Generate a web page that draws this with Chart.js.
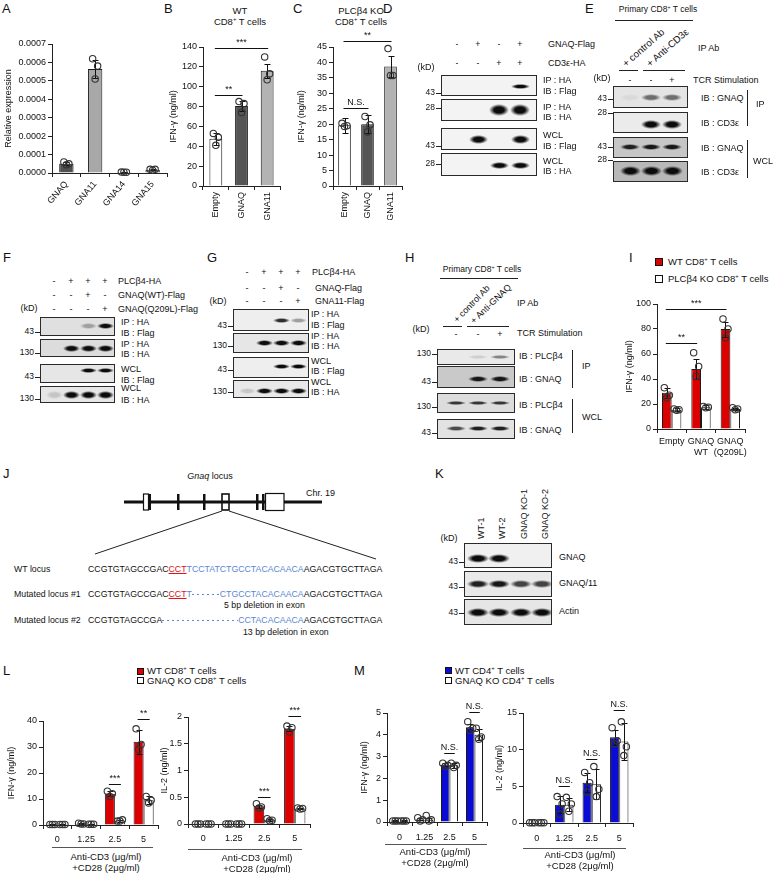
<!DOCTYPE html>
<html>
<head>
<meta charset="utf-8">
<title>Figure</title>
<script src="https://cdn.jsdelivr.net/npm/chart.js@4.4.1/dist/chart.umd.min.js"></script>
<style>
  body { margin: 0; background: #fff; }
  #fig { position: relative; width: 776px; height: 873px; overflow: hidden;
         font-family: "Liberation Sans", Arial, sans-serif; color: #111; }
  #fig canvas { position: absolute; }
  #lines { position: absolute; left: 0; top: 0; }
  .t { position: absolute; white-space: nowrap; font-size: 9px; line-height: 1.15; transform: translateY(-50%); }
  .t.c { transform: translate(-50%, -50%); text-align: center; }
  .t.r { transform: translate(-100%, -50%); }
  .t sup { font-size: 0.62em; vertical-align: 0; position: relative; top: -0.6em; line-height: 0; }
  .blot { position: absolute; border: 1px solid #2a2a2a; box-sizing: border-box; overflow: hidden; }
  .band { position: absolute; }
  .sq { position: absolute; box-sizing: border-box; border: 1px solid #111; }
  .seq .r { color: #e01010; text-decoration: underline; }
  .seq .b { color: #5b86d6; }
  .seq .d { color: transparent; background: linear-gradient(90deg, #5b86d6 50%, transparent 50%) 0 55% / 5px 1px repeat-x; }
</style>
</head>
<body>
<div id="fig">
  <svg id="lines" width="776" height="873"></svg>
</div>
<script>
Chart.defaults.font.family = '"Liberation Sans", Arial, sans-serif';
Chart.defaults.color = '#111';

// ---------- A : relative expression
const aCats = ['GNAQ', 'GNA11', 'GNA14', 'GNA15'];
const aMean = [0.00005, 0.000565, 0.000004, 0.000018];
const aErr = [0.000008, 0.00005, 0.000001, 0.000004];
const aPts = [[0.00006, 0.00005, 0.000045], [0.00062, 0.00058, 0.00051], [0.000005, 0.000004, 0.000004], [0.00002, 0.00002, 0.000015]];

// ---------- B : WT CD8 IFN-g
const bCats = ['Empty', 'GNAQ', 'GNA11'];
const bMean = [47.5, 80.5, 116];
const bErr = [6, 5, 7];
const bPts = [[53, 49, 41], [85, 83, 74], [130, 113, 107]];
const bSig = [{ a: [0, 0], b: [0, 1], y: 92, text: '**' }, { a: [0, 0], b: [0, 2], y: 139, text: '***' }];

// ---------- C : PLCb4 KO CD8 IFN-g
const cCats = ['Empty', 'GNAQ', 'GNA11'];
const cMean = [19.7, 20, 38.7];
const cErr = [2.4, 3, 3.3];
const cPts = [[20.3, 19.5, 19.3], [22.5, 19.8, 17.5], [44.5, 35.8, 35.8]];
const cSig = [{ a: [0, 0], b: [0, 1], y: 25.2, text: 'N.S.' }, { a: [0, 0], b: [0, 2], y: 46.8, text: '**' }];

// ---------- I : WT vs PLCb4 KO
const iCats = [['Empty'], ['GNAQ', 'WT'], ['GNAQ', '(Q209L)']];
const iWt = [29, 48, 80];
const iWtErr = [4, 8, 6];
const iWtPts = [[33, 27, 25], [61, 50, 42], [88, 80, 73]];
const iKo = [15.5, 17.5, 16];
const iKoErr = [1, 1.5, 1];
const iKoPts = [[16, 15.5, 15], [18, 17.5, 17], [17, 16, 15.5]];
const iSig = [{ a: [0, 0], b: [0, 1], y: 69, text: '**' }, { a: [0, 0], b: [0, 2], y: 96, text: '***' }];

// ---------- L : CD8 WT vs GNAQ KO
const doseCats = ['0', '1.25', '2.5', '5'];
const l1Wt = [0.2, 0.5, 12, 32];
const l1WtErr = [0.1, 0.2, 1, 4.5];
const l1WtPts = [[0.2, 0.2, 0.2], [0.7, 0.4, 0.4], [13, 12, 11], [37, 31, 29]];
const l1Ko = [0.2, 0.3, 1.7, 9.5];
const l1KoErr = [0.1, 0.1, 0.4, 1.5];
const l1KoPts = [[0.2, 0.2, 0.2], [0.3, 0.3, 0.3], [1.5, 2, 1.5], [11, 9.5, 8.5]];
const l1Sig = [{ a: [0, 2], b: [1, 2], y: 15.6, text: '***' }, { a: [0, 3], b: [1, 3], y: 40.6, text: '**' }];

const l2Wt = [0.005, 0.005, 0.33, 1.78];
const l2WtErr = [0, 0, 0.03, 0.05];
const l2WtPts = [[0, 0, 0], [0, 0, 0], [0.38, 0.32, 0.3], [1.83, 1.8, 1.72]];
const l2Ko = [0.005, 0.005, 0.08, 0.29];
const l2KoErr = [0, 0, 0.02, 0.01];
const l2KoPts = [[0, 0, 0], [0, 0, 0], [0.1, 0.07, 0.06], [0.3, 0.29, 0.28]];
const l2Sig = [{ a: [0, 2], b: [1, 2], y: 0.51, text: '***' }, { a: [0, 3], b: [1, 3], y: 2.02, text: '***' }];

// ---------- M : CD4 WT vs GNAQ KO
const m1Wt = [0.05, 0.12, 2.63, 4.35];
const m1WtErr = [0.02, 0.05, 0.08, 0.15];
const m1WtPts = [[0.05, 0.05, 0.05], [0.2, 0.1, 0.05], [2.7, 2.6, 2.55], [4.6, 4.3, 4.2]];
const m1Ko = [0.05, 0.1, 2.6, 4.0];
const m1KoErr = [0.02, 0.1, 0.1, 0.25];
const m1KoPts = [[0.05, 0.05, 0.05], [0.3, 0.1, 0.05], [2.7, 2.6, 2.5], [4.3, 3.9, 3.8]];
const m1Sig = [{ a: [0, 2], b: [1, 2], y: 3.15, text: 'N.S.' }, { a: [0, 3], b: [1, 3], y: 5.05, text: 'N.S.' }];

const m2Wt = [0.05, 2.5, 5.5, 11.7];
const m2WtErr = [0, 1.2, 1.3, 1.0];
const m2WtPts = [[0.05, 0.05, 0.05], [3.6, 2.6, 1.2], [6.9, 5.5, 4.2], [13, 11.2, 10.8]];
const m2Ko = [0.05, 2.5, 5.3, 11.1];
const m2KoErr = [0, 0.9, 2.0, 2.5];
const m2KoPts = [[0.05, 0.05, 0.05], [3.5, 2.6, 1.6], [7.7, 4.6, 3.6], [13.8, 10.4, 9.2]];
const m2Sig = [{ a: [0, 1], b: [1, 1], y: 5.1, text: 'N.S.' }, { a: [0, 2], b: [1, 2], y: 8.7, text: 'N.S.' }, { a: [0, 3], b: [1, 3], y: 15.4, text: 'N.S.' }];

// ---------- blots: band intensity per lane, one row per membrane
const dBands = [[0, 0, 0, 1], [0, 0, 1, 1], [0, 1, 0, 1], [0, 0, 1, 1]];
const eBands = [[0.05, 0.55, 0.55], [0, 1, 1], [0.9, 0.95, 0.95], [1, 1, 1]];
const fBands = [[0, 0, 0.3, 1], [0, 1, 1, 1], [0, 0, 1, 1], [0.15, 1, 1, 1]];
const gBands = [[0, 0, 0.85, 0.35], [0, 1, 1, 1], [0, 0, 1, 1], [0.15, 1, 1, 1]];
const hBands = [[0, 0.12, 0.45], [0, 0.95, 0.95], [0.8, 0.8, 0.8], [0.7, 0.9, 0.9]];
const kBands = [[1, 1, 0, 0], [0.9, 0.95, 0.75, 0.75], [1, 1, 1, 1]];

// ---------- J sequences
const seqWT = [['CCGTGTAGCCGAC', 'k'], ['CCT', 'r'], ['TCCTATCTGCCTACACAACA', 'b'], ['AGACGTGCTTAGA', 'k']];
const seqM1 = [['CCGTGTAGCCGAC', 'k'], ['CCT', 'r'], ['T', 'b'], ['CCTAT', 'd'], ['CTGCCTACACAACA', 'b'], ['AGACGTGCTTAGA', 'k']];
const seqM2 = [['CCGTGTAGCCGA', 'k'], ['CCCTTCCTATCTG', 'd'], ['CCTACACAACA', 'b'], ['AGACGTGCTTAGA', 'k']];

const RED = '#dd0000', BLUE = '#0b0bd6';
const fig = document.getElementById('fig');
const svg = document.getElementById('lines');
const NS = 'http://www.w3.org/2000/svg';

function T(x, y, html, o = {}) {
  const d = document.createElement('div');
  d.className = 't' + (o.a ? ' ' + o.a : '');
  d.style.left = x + 'px';
  d.style.top = y + 'px';
  if (o.s) d.style.fontSize = o.s + 'px';
  if (o.rot) {
    d.style.lineHeight = '10px';
    d.style.top = (y - 5) + 'px';
    d.style.transformOrigin = '0 50%';
    d.style.transform = 'rotate(' + o.rot + 'deg)';
  }
  d.innerHTML = html;
  fig.appendChild(d);
  return d;
}
function ln(x1, y1, x2, y2, w = 1, col = '#222') {
  const l = document.createElementNS(NS, 'line');
  [['x1', x1], ['y1', y1], ['x2', x2], ['y2', y2], ['stroke', col], ['stroke-width', w]].forEach(([k, v]) => l.setAttribute(k, v));
  svg.appendChild(l);
}
function rc(x, y, w, h, fill, stroke, sw) {
  const r = document.createElementNS(NS, 'rect');
  [['x', x], ['y', y], ['width', w], ['height', h], ['fill', fill], ['stroke', stroke || 'none'], ['stroke-width', sw || 0]].forEach(([k, v]) => r.setAttribute(k, v));
  svg.appendChild(r);
}
function sq(x, y, s, col) {
  const d = document.createElement('div');
  d.className = 'sq';
  Object.assign(d.style, { left: x + 'px', top: y + 'px', width: s + 'px', height: s + 'px', background: col });
  fig.appendChild(d);
}
function mw(boxX, y, label) {
  T(boxX - 6, y, label, { a: 'r', s: 8.5 });
  ln(boxX - 5, y + 0.5, boxX, y + 0.5, 1);
}
function blot(x, y, w, h, bg, lanes, bandY, bandH, bw, vals) {
  const b = document.createElement('div');
  b.className = 'blot';
  Object.assign(b.style, { left: x + 'px', top: y + 'px', width: w + 'px', height: h + 'px', background: bg });
  fig.appendChild(b);
  vals.forEach((a, i) => {
    if (!a) return;
    const d = document.createElement('div');
    d.className = 'band';
    Object.assign(d.style, {
      left: (lanes[i] - x - 1 - bw / 2) + 'px', top: (bandY - y - 1 - bandH / 2) + 'px',
      width: bw + 'px', height: bandH + 'px',
      background: 'radial-gradient(closest-side, rgba(12,12,12,' + a + ') 50%, rgba(12,12,12,0) 100%)'
    });
    b.appendChild(d);
  });
}
function signs(lanes, y, marks) {
  marks.forEach((m, i) => T(lanes[i], y, m, { a: 'c' }));
}

// ---------- chart plugins
const jit = [-2.5, 2.5, 0];
const dots = {
  id: 'dots',
  afterDatasetsDraw(chart) {
    const ctx = chart.ctx, ys = chart.scales.y;
    ctx.save();
    chart.data.datasets.forEach((d, di) => {
      chart.getDatasetMeta(di).data.forEach((bar, i) => {
        const x = Math.round(bar.x) + 0.5, m = d.data[i], e = d.err[i];
        ctx.strokeStyle = '#111';
        ctx.lineWidth = 1;
        if (e > 0) {
          const y1 = Math.round(ys.getPixelForValue(m + e)) + 0.5, y2 = Math.round(ys.getPixelForValue(m - e)) + 0.5;
          ctx.beginPath();
          ctx.moveTo(x, y1); ctx.lineTo(x, y2);
          ctx.moveTo(x - 3, y1); ctx.lineTo(x + 3, y1);
          ctx.moveTo(x - 3, y2); ctx.lineTo(x + 3, y2);
          ctx.stroke();
        }
        ctx.strokeStyle = '#333';
        ctx.lineWidth = 1.1;
        d.pts[i].forEach((v, k) => {
          ctx.beginPath();
          ctx.arc(bar.x + jit[k], ys.getPixelForValue(v), 3.2, 0, Math.PI * 2);
          ctx.stroke();
        });
      });
    });
    ctx.restore();
  }
};
function sigPlugin(items) {
  return {
    id: 'sig',
    afterDraw(chart) {
      const ctx = chart.ctx, ys = chart.scales.y;
      ctx.save();
      ctx.strokeStyle = '#111'; ctx.fillStyle = '#111'; ctx.lineWidth = 1;
      ctx.font = '9px "Liberation Sans", Arial';
      ctx.textAlign = 'center'; ctx.textBaseline = 'bottom';
      items.forEach(s => {
        const xa = chart.getDatasetMeta(s.a[0]).data[s.a[1]].x;
        const xb = chart.getDatasetMeta(s.b[0]).data[s.b[1]].x;
        const yy = Math.round(ys.getPixelForValue(s.y)) + 0.5;
        ctx.beginPath(); ctx.moveTo(xa - 1, yy); ctx.lineTo(xb + 1, yy); ctx.stroke();
        ctx.fillText(s.text, (xa + xb) / 2, yy - 1);
      });
      ctx.restore();
    }
  };
}
function series(data, err, pts, color, bp, cp) {
  return { data, err, pts, backgroundColor: color, borderColor: '#1a1a1a', borderWidth: 1, barPercentage: bp, categoryPercentage: cp };
}
function barChart(box, cats, datasets, y, sig, xo) {
  const cv = document.createElement('canvas');
  cv.width = box.w; cv.height = box.h;
  cv.style.left = box.x + 'px'; cv.style.top = box.y + 'px';
  fig.appendChild(cv);
  return new Chart(cv, {
    type: 'bar',
    data: { labels: cats, datasets },
    options: {
      responsive: false, animation: false, events: [],
      layout: { padding: { top: box.pt, right: box.pr, left: 0, bottom: 0 } },
      plugins: { legend: { display: false }, tooltip: { enabled: false } },
      scales: {
        x: {
          offset: true,
          grid: { offset: true, drawOnChartArea: false, tickLength: 4, color: '#222' },
          border: { color: '#222' },
          ticks: { autoSkip: false, font: { size: 9 }, padding: xo.pad, minRotation: xo.rot, maxRotation: xo.rot },
          afterFit: s => { s.height = box.xh; }
        },
        y: {
          min: 0, max: y.max,
          grid: { drawOnChartArea: false, tickLength: 4, color: '#222' },
          border: { color: '#222' },
          ticks: { stepSize: y.step, font: { size: 9 }, padding: 2, callback: y.fmt || (v => String(v)) },
          title: { display: true, text: y.title, font: { size: 9 }, padding: { top: box.tp, bottom: 0 } },
          afterFit: s => { s.width = box.yw; }
        }
      }
    },
    plugins: [dots, sigPlugin(sig)]
  });
}

// ---------- panel letters
[['A', 2, 9], ['B', 164, 9], ['C', 293, 9], ['D', 383, 9], ['E', 585, 9], ['F', 3, 258], ['G', 207, 258],
 ['H', 405, 258], ['I', 629, 258], ['J', 3, 474], ['K', 435, 474], ['L', 3, 671], ['M', 354, 671]]
  .forEach(([s, x, y]) => T(x, y, s, { s: 13 }));

// ---------- A, B, C
barChart({ x: 0, y: 30, w: 172, h: 185, yw: 52, pt: 14, pr: 5, xh: 42, tp: 3.6 }, aCats,
  [series(aMean, aErr, aPts, ['#505050', '#a8a8a8', '#505050', '#8a8a8a'], 0.5, 1)],
  { max: 0.0007, step: 0.0001, title: 'Relative expression', fmt: v => v.toFixed(4) }, [], { rot: 50, pad: 2 });

T(240, 11, 'WT', { a: 'c', s: 9.5 });
T(240, 22, 'CD8<sup>+</sup> T cells', { a: 'c', s: 9.5 });
barChart({ x: 168, y: 30, w: 117, h: 190, yw: 35, pt: 17, pr: 5, xh: 34, tp: 0.6 }, bCats,
  [series(bMean, bErr, bPts, ['#ffffff', '#555555', '#b3b3b3'], 0.5, 1)],
  { max: 140, step: 20, title: 'IFN-γ (ng/ml)' }, bSig, { rot: 90, pad: 2 });

T(361, 11, 'PLCβ4 KO', { a: 'c', s: 9.5 });
T(361, 22, 'CD8<sup>+</sup> T cells', { a: 'c', s: 9.5 });
barChart({ x: 296, y: 30, w: 110, h: 190, yw: 37, pt: 17, pr: 4, xh: 34, tp: 0 }, cCats,
  [series(cMean, cErr, cPts, ['#ffffff', '#555555', '#b3b3b3'], 0.55, 1)],
  { max: 45, step: 5, title: 'IFN-γ (ng/ml)' }, cSig, { rot: 90, pad: 2 });

// ---------- D
const dL = [457, 478, 499, 520];
signs(dL, 44, ['-', '+', '-', '+']); T(548, 44, 'GNAQ-Flag');
signs(dL, 63, ['-', '-', '+', '+']); T(548, 63, 'CD3ε-HA');
T(426, 67, '(kD)', { a: 'c' });
blot(441, 75, 96, 21, '#f3f3f3', dL, 86, 5, 19, dBands[0]);
blot(441, 99, 96, 22, '#f3f3f3', dL, 110, 12, 20, dBands[1]);
blot(441, 128, 96, 22, '#f3f3f3', dL, 139, 9, 19, dBands[2]);
blot(441, 153, 96, 23, '#f3f3f3', dL, 165, 7, 19, dBands[3]);
mw(441, 93, '43'); mw(441, 108, '28'); mw(441, 146, '43'); mw(441, 164, '28');
[['IP : HA', 80], ['IB : Flag', 91], ['IP : HA', 107], ['IB : HA', 117], ['WCL', 135], ['IB : Flag', 146], ['WCL', 161], ['IB : HA', 171]]
  .forEach(([s, y]) => T(543, y, s));

// ---------- E
const eL = [630, 651, 672];
T(658, 10, 'Primary CD8<sup>+</sup> T cells', { a: 'c', s: 8.5 });
ln(615, 20.5, 693, 20.5);
T(624, 65, '+ control Ab', { rot: -41, s: 9.8 });
T(648, 65, '+ Anti-CD3ε', { rot: -41, s: 9.8 });
T(698, 48, 'IP Ab');
ln(619, 70.5, 638, 70.5); ln(643, 70.5, 685, 70.5);
T(602, 78, '(kD)', { a: 'c' });
signs(eL, 80, ['-', '-', '+']); T(693, 80, 'TCR Stimulation');
blot(613, 86, 75, 22, '#e4e4e4', eL, 97, 7, 20, eBands[0]);
blot(613, 112, 75, 21, '#ebebeb', eL, 124, 9, 20, eBands[1]);
blot(613, 137, 75, 21, '#c6c6c6', eL, 147, 6, 20, eBands[2]);
blot(613, 161, 75, 21, '#b8b8b8', eL, 171, 10, 21, eBands[3]);
mw(613, 99, '43'); mw(613, 113, '28'); mw(613, 147, '43'); mw(613, 160, '28');
[['IB : GNAQ', 98], ['IB : CD3ε', 123], ['IB : GNAQ', 148], ['IB : CD3ε', 172]].forEach(([s, y]) => T(701, y, s));
ln(747.5, 90, 747.5, 126); ln(747.5, 140, 747.5, 178);
T(756, 104, 'IP'); T(753, 161, 'WCL');

// ---------- F
const fL = [54, 71, 88, 105];
signs(fL, 281, ['-', '+', '+', '+']); T(118, 281, 'PLCβ4-HA');
signs(fL, 295, ['-', '-', '+', '-']); T(118, 295, 'GNAQ(WT)-Flag');
signs(fL, 309, ['-', '-', '-', '+']); T(118, 309, 'GNAQ(Q209L)-Flag');
T(29, 308, '(kD)', { a: 'c' });
blot(40, 317, 75, 19, '#e0e0e0', fL, 326, 6, 17, fBands[0]);
blot(40, 339, 75, 18, '#dcdcdc', fL, 348, 7, 17, fBands[1]);
blot(40, 364, 75, 19, '#e6e6e6', fL, 370, 5, 17, fBands[2]);
blot(40, 386, 75, 17, '#e6e6e6', fL, 395, 8, 17, fBands[3]);
mw(40, 332, '43'); mw(40, 353, '130'); mw(40, 377, '43'); mw(40, 399, '130');
[['IP : HA', 322], ['IB : Flag', 333], ['IP : HA', 344], ['IB : HA', 354], ['WCL', 369], ['IB : Flag', 380], ['WCL', 388], ['IB : HA', 400]]
  .forEach(([s, y]) => T(121, y, s));

// ---------- G
const gL = [247, 264, 281, 298];
signs(gL, 272, ['-', '+', '+', '+']); T(312, 272, 'PLCβ4-HA');
signs(gL, 288, ['-', '-', '+', '-']); T(315, 288, 'GNAQ-Flag');
signs(gL, 301, ['-', '-', '-', '+']); T(315, 301, 'GNA11-Flag');
T(218, 301, '(kD)', { a: 'c' });
blot(233, 309, 76, 22, '#eeeeee', gL, 320, 5, 17, gBands[0]);
blot(233, 333, 76, 20, '#e6e6e6', gL, 343, 6, 17, gBands[1]);
blot(233, 357, 76, 21, '#eeeeee', gL, 366, 5, 17, gBands[2]);
blot(233, 380, 76, 18, '#e8e8e8', gL, 391, 6, 17, gBands[3]);
mw(233, 326, '43'); mw(233, 346, '130'); mw(233, 370, '43'); mw(233, 392, '130');
[['IP : HA', 314], ['IB : Flag', 325], ['IP : HA', 336], ['IB : HA', 346], ['WCL', 361], ['IB : Flag', 371], ['WCL', 382], ['IB : HA', 392]]
  .forEach(([s, y]) => T(311, y, s));

// ---------- H
const hL = [456, 478, 500];
T(482, 270, 'Primary CD8<sup>+</sup> T cells', { a: 'c', s: 8.5 });
ln(440, 278.5, 518, 278.5);
T(455, 321, '+ control Ab', { rot: -46, s: 9 });
T(472, 322, '+ Anti-GNAQ', { rot: -44, s: 9 });
T(517, 303, 'IP Ab');
ln(443, 326.5, 462, 326.5); ln(467, 326.5, 509, 326.5);
T(421, 329, '(kD)', { a: 'c' });
signs(hL, 334, ['-', '-', '+']); T(517, 333, 'TCR Stimulation');
blot(437, 349, 78, 16, '#e9e9e9', hL, 357, 4, 20, hBands[0]);
blot(437, 366, 78, 22, '#c9c9c9', hL, 379, 6, 20, hBands[1]);
blot(437, 393, 78, 20, '#dcdcdc', hL, 403, 4, 20, hBands[2]);
blot(437, 419, 78, 20, '#e2e2e2', hL, 428, 5, 20, hBands[3]);
mw(437, 354, '130'); mw(437, 382, '43'); mw(437, 407, '130'); mw(437, 433, '43');
[['IB : PLCβ4', 356], ['IB : GNAQ', 379], ['IB : PLCβ4', 405], ['IB : GNAQ', 430]].forEach(([s, y]) => T(519, y, s));
ln(572.5, 350, 572.5, 388); ln(572.5, 399, 572.5, 433);
T(582, 366, 'IP'); T(582, 417, 'WCL');

// ---------- I
sq(655, 258, 8, RED); T(668, 262, 'WT CD8<sup>+</sup> T cells', { s: 9.5 });
sq(655, 275, 8, '#fff'); T(668, 279, 'PLCβ4 KO CD8<sup>+</sup> T cells', { s: 9.5 });
barChart({ x: 622, y: 290, w: 130, h: 170, yw: 35, pt: 14, pr: 7, xh: 31, tp: 2.6 }, iCats,
  [series(iWt, iWtErr, iWtPts, RED, 1, 0.66), series(iKo, iKoErr, iKoPts, '#ffffff', 1, 0.66)],
  { max: 100, step: 20, title: 'IFN-γ (ng/ml)' }, iSig, { rot: 0, pad: 3 });

// ---------- J
T(210, 476, '<i>Gnaq</i> locus', { a: 'c' });
T(306, 493, 'Chr. 19');
ln(124, 502, 322, 502, 3, '#111');
rc(143.5, 494, 5, 16, '#fff', '#111', 1.2);
rc(148, 494, 3, 16, '#111');
[178, 204, 257, 263].forEach(x => rc(x - 1, 494, 2.5, 16, '#111'));
rc(222, 494, 7, 16, 'none', '#111', 1.6);
rc(265.5, 493.5, 18.5, 17, '#fff', '#111', 1.2);
ln(222, 511, 95, 554, 1);
ln(229, 511, 376, 559, 1);
[['WT locus', 569, seqWT], ['Mutated locus #1', 594, seqM1], ['Mutated locus #2', 620, seqM2]].forEach(([lab, y, parts]) => {
  T(14, y, lab, { s: 8.75 });
  const d = T(88, y, parts.map(([s, c]) => '<span class="' + c + '">' + s + '</span>').join(''), { s: 8.75 });
  d.classList.add('seq');
});
T(224, 605, '5 bp deletion in exon', { s: 8.75 });
T(243, 632, '13 bp deletion in exon', { s: 8.75 });

// ---------- K
const kL = [478, 499, 521, 542];
[['WT-1', 481], ['WT-2', 502], ['GNAQ KO-1', 524], ['GNAQ KO-2', 545]].forEach(([s, x]) => T(x, 539, s, { rot: -90 }));
T(449, 538, '(kD)', { a: 'c' });
blot(464, 543, 88, 25, '#f0f0f0', kL, 558, 9, 22, kBands[0]);
blot(464, 571, 88, 26, '#e9e9e9', kL, 584, 8, 22, kBands[1]);
blot(464, 599, 88, 26, '#e6e6e6', kL, 612, 9, 22, kBands[2]);
mw(464, 562, '43'); mw(464, 587, '43'); mw(464, 613, '43');
T(559, 557, 'GNAQ'); T(559, 583, 'GNAQ/11'); T(559, 611, 'Actin');

// ---------- L
sq(137, 668, 7, RED); T(147, 671, 'WT CD8<sup>+</sup> T cells', { s: 9.5 });
sq(137, 677, 7, '#fff'); T(147, 681, 'GNAQ KO CD8<sup>+</sup> T cells', { s: 9.5 });
barChart({ x: 5, y: 700, w: 155, h: 143, yw: 38, pt: 21, pr: 2, xh: 18, tp: 1.6 }, doseCats,
  [series(l1Wt, l1WtErr, l1WtPts, RED, 1, 0.7), series(l1Ko, l1KoErr, l1KoPts, '#ffffff', 1, 0.7)],
  { max: 40, step: 10, title: 'IFN-γ (ng/ml)' }, l1Sig, { rot: 0, pad: 5 });
barChart({ x: 150, y: 700, w: 162, h: 142, yw: 38, pt: 17, pr: 2, xh: 18, tp: 9.6 }, doseCats,
  [series(l2Wt, l2WtErr, l2WtPts, RED, 1, 0.7), series(l2Ko, l2KoErr, l2KoPts, '#ffffff', 1, 0.7)],
  { max: 2, step: 0.5, title: 'IL-2 (ng/ml)' }, l2Sig, { rot: 0, pad: 5 });

// ---------- M
sq(445, 667, 7, BLUE); T(455, 671, 'WT CD4<sup>+</sup> T cells', { s: 9.5 });
sq(445, 677, 7, '#fff'); T(455, 681, 'GNAQ KO CD4<sup>+</sup> T cells', { s: 9.5 });
barChart({ x: 352, y: 695, w: 137, h: 147, yw: 35, pt: 18, pr: 2, xh: 20, tp: 7.6 }, doseCats,
  [series(m1Wt, m1WtErr, m1WtPts, BLUE, 1, 0.68), series(m1Ko, m1KoErr, m1KoPts, '#ffffff', 1, 0.68)],
  { max: 5, step: 1, title: 'IFN-γ (ng/ml)' }, m1Sig, { rot: 0, pad: 6 });
barChart({ x: 490, y: 695, w: 145, h: 148, yw: 33, pt: 18, pr: 2, xh: 20, tp: 4.6 }, doseCats,
  [series(m2Wt, m2WtErr, m2WtPts, BLUE, 1, 0.67), series(m2Ko, m2KoErr, m2KoPts, '#ffffff', 1, 0.67)],
  { max: 15, step: 5, title: 'IL-2 (ng/ml)' }, m2Sig, { rot: 0, pad: 6 });

// ---------- dose captions
[[52, 153, 847, 106, 857], [188, 302, 849, 257, 858], [385, 487, 844, 435, 852], [523, 626, 848, 580, 855]]
  .forEach(([x1, x2, y, cx, ty]) => {
    ln(x1, y + 0.5, x2, y + 0.5, 1, '#555');
    T(cx, ty, 'Anti-CD3 (μg/ml)', { a: 'c', s: 9.5 });
    T(cx, ty + 11, '+CD28 (2μg/ml)', { a: 'c', s: 9.5 });
  });
</script>
</body>
</html>
